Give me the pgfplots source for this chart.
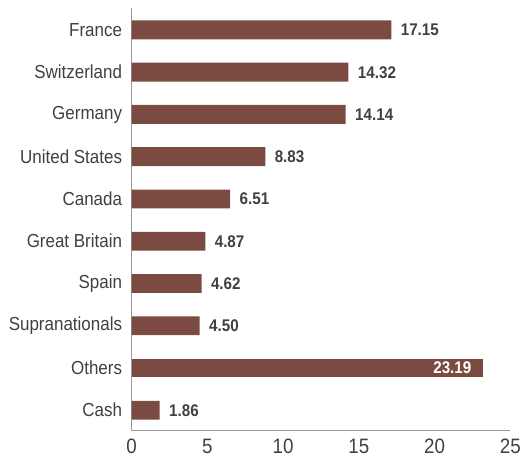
\documentclass[border=0pt]{standalone}
\usepackage{pgfplots}
\pgfplotsset{compat=1.18}
\usepackage{fontspec}
\setmainfont{Liberation Sans}[FakeStretch=0.9]
\definecolor{barc}{HTML}{7B4A40}
\definecolor{txt}{HTML}{404040}
\definecolor{axc}{HTML}{999999}
\begin{document}
\begin{tikzpicture}
\path (-132bp,-32bp) rectangle (392bp,432bp);
\begin{axis}[
  at={(0,0)}, anchor=south west,
  scale only axis,
  width=380bp, height=424bp,
  xmin=0, xmax=25, ymin=-0.48, ymax=9.52,
  axis lines*=left,
  axis line style={color=axc, line width=1bp},
  xtick={0,5,10,15,20,25},
  ytick={0,...,9},
  yticklabels={Cash,Others,Supranationals,Spain,Great Britain,Canada,United States,Germany,Switzerland,France},
  major tick length=0pt,
  tick label style={color=txt},
  yticklabel style={font=\fontsize{19}{21}\selectfont, xshift=-6bp},
  xticklabel style={font=\fontsize{21}{23}\selectfont, yshift=-5bp},
  /pgf/number format/assume math mode=true,
  xbar, bar width=19bp, bar shift=0pt,
]
\addplot[fill=barc, draw=none,
  nodes near coords, nodes near coords align=horizontal,
  every node near coord/.append style={font=\bfseries\fontsize{17}{19}\selectfont, color=txt, anchor=west, xshift=6bp},
  /pgf/number format/.cd, fixed, fixed zerofill, precision=2]
  coordinates {(17.15,9) (14.32,8) (14.14,7) (8.83,6) (6.51,5) (4.87,4) (4.62,3) (4.50,2) (1.86,0)};
\addplot[fill=barc, draw=none,
  nodes near coords, nodes near coords align=horizontal,
  every node near coord/.append style={font=\bfseries\fontsize{17}{19}\selectfont, color=white, anchor=east, xshift=-8bp},
  /pgf/number format/.cd, fixed, fixed zerofill, precision=2]
  coordinates {(23.19,1)};
\end{axis}
\end{tikzpicture}
\end{document}
